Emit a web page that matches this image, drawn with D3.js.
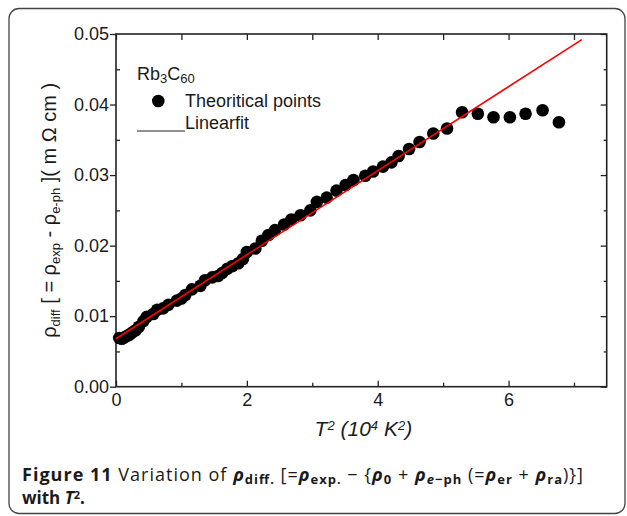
<!DOCTYPE html>
<html>
<head>
<meta charset="utf-8">
<script src="https://cdn.jsdelivr.net/npm/d3@7"></script>
<style>
  body { margin: 0; background: #fff; }
  svg { display: block; }
  text { fill: #1a1a1a; }
</style>
</head>
<body>
<div id="chart"></div>
<script>
// T^2 (10^4 K^2) readings and rho_diff (m Ohm cm)
var tSquared = [0.05, 0.09, 0.13, 0.17, 0.21, 0.25, 0.30, 0.35, 0.42, 0.47,
    0.57, 0.63, 0.72, 0.80, 0.93, 1.00, 1.06, 1.16, 1.29, 1.36,
    1.47, 1.56, 1.62, 1.70, 1.78, 1.87, 1.94, 2.00, 2.13, 2.23,
    2.33, 2.43, 2.57, 2.68, 2.82, 2.97, 3.07, 3.22, 3.37, 3.51,
    3.63, 3.81, 3.93, 4.08, 4.21, 4.32, 4.48, 4.64, 4.85, 5.06,
    5.29, 5.53, 5.77, 6.02, 6.26, 6.52, 6.77];
var rhoDiff = [0.0069, 0.0068, 0.0070, 0.0072, 0.0074, 0.0077, 0.0080, 0.0085, 0.0093, 0.0099,
    0.0103, 0.0109, 0.0111, 0.0116, 0.0122, 0.0125, 0.0130, 0.0138, 0.0143, 0.0151,
    0.0155, 0.0157, 0.0161, 0.0167, 0.0171, 0.0175, 0.0181, 0.0191, 0.0196, 0.0207,
    0.0215, 0.0222, 0.0230, 0.0237, 0.0243, 0.0250, 0.0262, 0.0268, 0.0278, 0.0286,
    0.0293, 0.0299, 0.0305, 0.0312, 0.0318, 0.0327, 0.0337, 0.0347, 0.0359, 0.0366,
    0.0389, 0.0387, 0.0382, 0.0382, 0.0387, 0.0392, 0.0375];

// linear fit end points
var fitX = [0, 7.12];
var fitY = [0.0068, 0.0492];

var xMajor = [0, 2, 4, 6];
var xMinor = [1, 3, 5, 7];
var yMajor = [0, 0.01, 0.02, 0.03, 0.04, 0.05];
var yMinor = [0.005, 0.015, 0.025, 0.035, 0.045];

var W = 627, H = 516;
var margin = {top: 34, left: 116, right: 20.3, bottom: 129.3};
var w = W - margin.left - margin.right,
    h = H - margin.top - margin.bottom;

var svg = d3.select("#chart").append("svg")
    .attr("width", W)
    .attr("height", H)
    .style("font-family", "Liberation Sans, Arial, sans-serif");

// rounded frame round the figure
svg.append("rect")
    .attr("x", 9).attr("y", 8.5)
    .attr("width", 616).attr("height", 505)
    .attr("rx", 10).attr("ry", 10)
    .attr("fill", "none")
    .attr("stroke", "#444")
    .attr("stroke-width", 1.3);

var g = svg.append("g")
    .attr("transform", "translate(" + margin.left + "," + margin.top + ")");

var x = d3.scaleLinear().domain([0, 7.5]).range([0, w]);
var y = d3.scaleLinear().domain([0, 0.05]).range([h, 0]);

// axes
function styleAxis(sel) {
    sel.select(".domain").remove();
    sel.selectAll("line").attr("stroke", "#222").attr("stroke-width", 1.3);
    sel.selectAll("text").style("font-size", "18px").attr("fill", "#1a1a1a");
}

g.append("g")
    .call(d3.axisLeft(y).tickValues(yMajor).tickSize(6).tickPadding(1)
        .tickFormat(d3.format(".2f")))
    .call(styleAxis);
g.append("g")
    .call(d3.axisLeft(y).tickValues(yMinor).tickSize(-4).tickFormat(""))
    .call(styleAxis);

g.append("g")
    .attr("transform", "translate(0," + h + ")")
    .call(d3.axisBottom(x).tickValues(xMajor).tickSize(-6).tickPadding(7)
        .tickFormat(d3.format("d")))
    .call(styleAxis);
g.append("g")
    .attr("transform", "translate(0," + h + ")")
    .call(d3.axisBottom(x).tickValues(xMinor).tickSize(-4).tickFormat(""))
    .call(styleAxis);

g.append("g")
    .call(d3.axisTop(x).tickValues(xMajor.concat(xMinor)).tickSize(-6).tickFormat(""))
    .call(styleAxis);

g.append("g")
    .attr("transform", "translate(" + w + ",0)")
    .call(d3.axisRight(y).tickValues(yMajor).tickSize(-6).tickFormat(""))
    .call(styleAxis);
g.append("g")
    .attr("transform", "translate(" + w + ",0)")
    .call(d3.axisRight(y).tickValues(yMinor).tickSize(-3).tickFormat(""))
    .call(styleAxis);

// plot frame
g.append("rect")
    .attr("width", w).attr("height", h)
    .attr("fill", "none")
    .attr("stroke", "#222")
    .attr("stroke-width", 1.6);

// points
var points = tSquared.map(function(t, i) { return {x: t, y: rhoDiff[i]}; });

g.selectAll(".dot")
    .data(points)
    .enter().append("circle")
        .attr("class", "dot")
        .attr("cx", function(d) { return x(d.x); })
        .attr("cy", function(d) { return y(d.y); })
        .attr("r", 6.3)
        .attr("fill", "#000");

// linear fit
var line = d3.line()
    .x(function(d) { return x(d[0]); })
    .y(function(d) { return y(d[1]); });

g.append("path")
    .datum(fitX.map(function(v, i) { return [v, fitY[i]]; }))
    .attr("d", line)
    .attr("fill", "none")
    .attr("stroke", "#ff0000")
    .attr("stroke-width", 1.6);

// legend
var leg = svg.append("g").style("font-size", "18px");
var rb = leg.append("text").attr("x", 137).attr("y", 80);
rb.append("tspan").text("Rb");
rb.append("tspan").attr("baseline-shift", "-25%").style("font-size", "13px").text("3");
rb.append("tspan").text("C");
rb.append("tspan").attr("baseline-shift", "-25%").style("font-size", "13px").text("60");

leg.append("circle").attr("cx", 158.3).attr("cy", 101).attr("r", 6.3).attr("fill", "#000");
leg.append("text").attr("x", 185).attr("y", 107).text("Theoritical points");
leg.append("line")
    .attr("x1", 137).attr("x2", 185)
    .attr("y1", 131).attr("y2", 131)
    .attr("stroke", "#222").attr("stroke-width", 1.2);
leg.append("text").attr("x", 185).attr("y", 129).text("Linearfit");

// y axis title
var yt = svg.append("text")
    .attr("transform", "translate(56," + (margin.top + h / 2) + ") rotate(-90)")
    .attr("text-anchor", "middle")
    .style("font-size", "20px");
function sub(t, txt) {
    t.append("tspan").attr("baseline-shift", "-30%").style("font-size", "13px").text(txt);
}
yt.append("tspan").text("ρ");
sub(yt, "diff");
yt.append("tspan").text(" [ = ρ");
sub(yt, "exp");
yt.append("tspan").text(" - ρ");
sub(yt, "e-ph");
yt.append("tspan").text(" ]( m Ω cm )");

// x axis title
var xt = svg.append("text")
    .attr("x", margin.left + w / 2 + 2)
    .attr("y", 436)
    .attr("text-anchor", "middle")
    .style("font-size", "21px")
    .style("font-style", "italic");
xt.append("tspan").text("T");
xt.append("tspan").attr("baseline-shift", "45%").style("font-size", "13px").text("2");
xt.append("tspan").text(" (10");
xt.append("tspan").attr("baseline-shift", "45%").style("font-size", "13px").text("4");
xt.append("tspan").text(" K");
xt.append("tspan").attr("baseline-shift", "45%").style("font-size", "13px").text("2");
xt.append("tspan").text(")");

// caption
var cap = svg.append("g")
    .style("font-family", "'Open Sans', 'Noto Sans', sans-serif")
    .attr("fill", "#231f20");
var c1 = cap.append("text").attr("x", 22).attr("y", 481)
    .style("font-size", "18px")
    .attr("textLength", 561).attr("lengthAdjust", "spacing");
c1.append("tspan").style("font-weight", "bold").text("Figure 11");
c1.append("tspan").text(" Variation of ");
function rho(t, s, italicSub) {
    t.append("tspan").style("font-style", "italic").style("font-weight", "bold").text("ρ");
    var st = t.append("tspan").attr("baseline-shift", "-25%").style("font-size", "13px")
        .style("font-weight", "bold");
    if (italicSub) {
        st.append("tspan").style("font-style", "italic").text("e");
        st.append("tspan").text("−ph");
    } else {
        st.text(s);
    }
}
rho(c1, "diff.");
c1.append("tspan").text(" [=");
rho(c1, "exp.");
c1.append("tspan").text(" − {");
rho(c1, "0");
c1.append("tspan").text(" + ");
rho(c1, "", true);
c1.append("tspan").text(" (=");
rho(c1, "er");
c1.append("tspan").text(" + ");
rho(c1, "ra");
c1.append("tspan").text(")}]");

var c2 = cap.append("text").attr("x", 22).attr("y", 504)
    .style("font-size", "17px").style("font-weight", "bold");
c2.append("tspan").text("with ");
c2.append("tspan").style("font-style", "italic").text("T");
c2.append("tspan").attr("baseline-shift", "45%").style("font-size", "11px").text("2");
c2.append("tspan").text(".");
</script>
</body>
</html>
